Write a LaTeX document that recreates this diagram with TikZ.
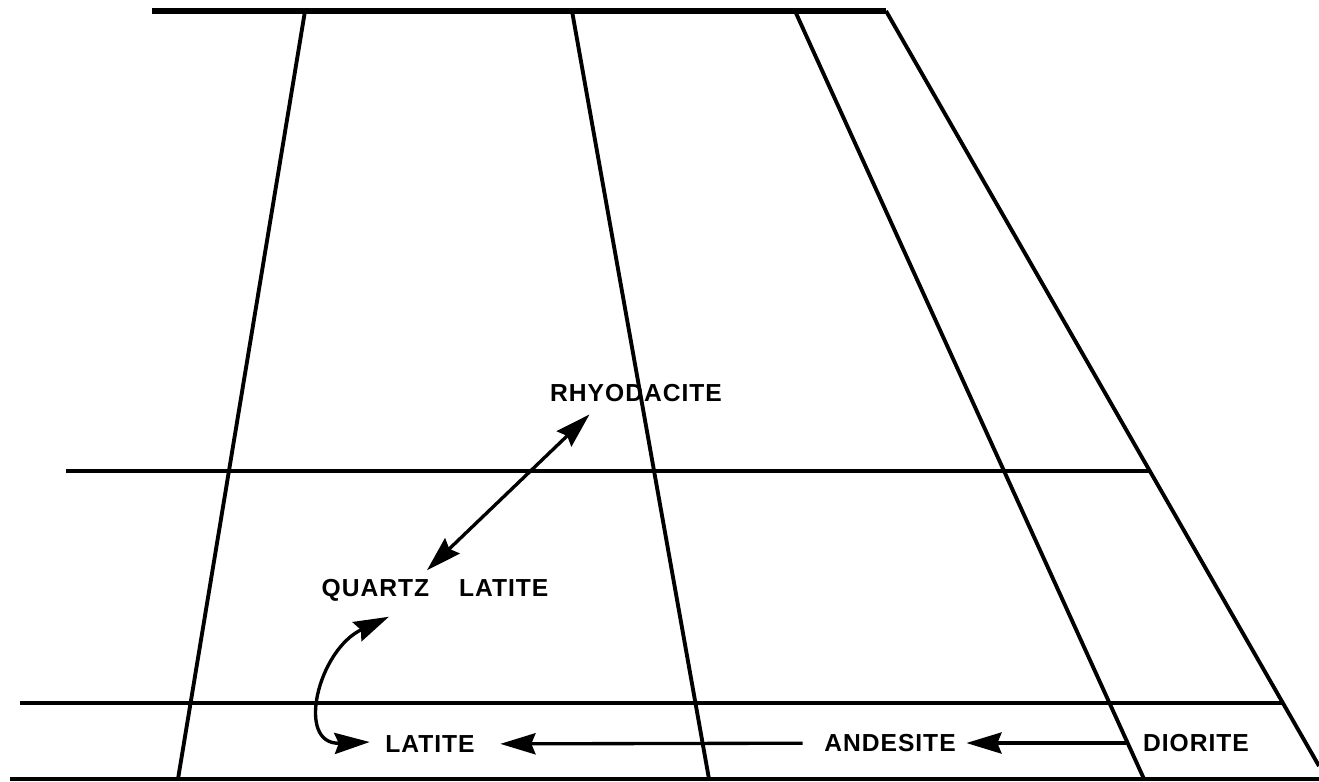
\documentclass[tikz,border=0pt]{standalone}
\usepackage{fontspec}
\newfontfamily\rockfont[LetterSpace=4]{Liberation Sans}
\usetikzlibrary{positioning,calc,arrows.meta}

\begin{document}
\begin{tikzpicture}[x=0.01cm,y=-0.01cm,>={Stealth[length=10pt,width=6pt,inset=1.2pt]},
    rock/.style={inner sep=0pt,font=\rockfont\bfseries\fontsize{7}{8}\selectfont},
    grid/.style={line width=1.1pt},
    flow/.style={line width=0.95pt}]
  \useasboundingbox (0,0) rectangle (1319,781);
  \draw[grid,line width=1.5pt] (152,11) -- (886,11);
  \draw[grid] (66,471) -- (1150,471);
  \draw[grid] (20,703) -- (1283,703);
  \draw[grid] (10,779) -- (1319,779);
  \draw[grid] (305,11) -- (178,779);
  \draw[grid] (572,11) -- (709,779);
  \draw[grid] (795,11) -- (1144,779);
  \draw[grid] (886,11) -- (1319,766);
  \node[rock] (rhyo) at (636,393) {RHYODACITE};
  \node[rock] (qlat) at (435,590) {QUARTZ\hspace{0.3cm}LATITE};
  \node[rock] (lat) at (430,744) {LATITE};
  \node[rock] (andes) at (890,743) {ANDESITE};
  \node[rock] (dior) at (1196,743) {DIORITE};
  \draw[flow,<->] ([shift={(40,12)}]rhyo.south west) -- ([shift={(106,-8)}]qlat.north west);
  \draw[flow,<->] ([shift={(68,15)}]qlat.south west) .. controls (318,650) and (295,745) .. ([shift={(-15,-2)}]lat.west);
  \draw[flow,->,shorten <=0.21cm,shorten >=0.25cm] (andes) -- (lat);
  \draw[flow,->,shorten <=0.16cm,shorten >=0.1cm] (dior) -- (andes);
\end{tikzpicture}
\end{document}
